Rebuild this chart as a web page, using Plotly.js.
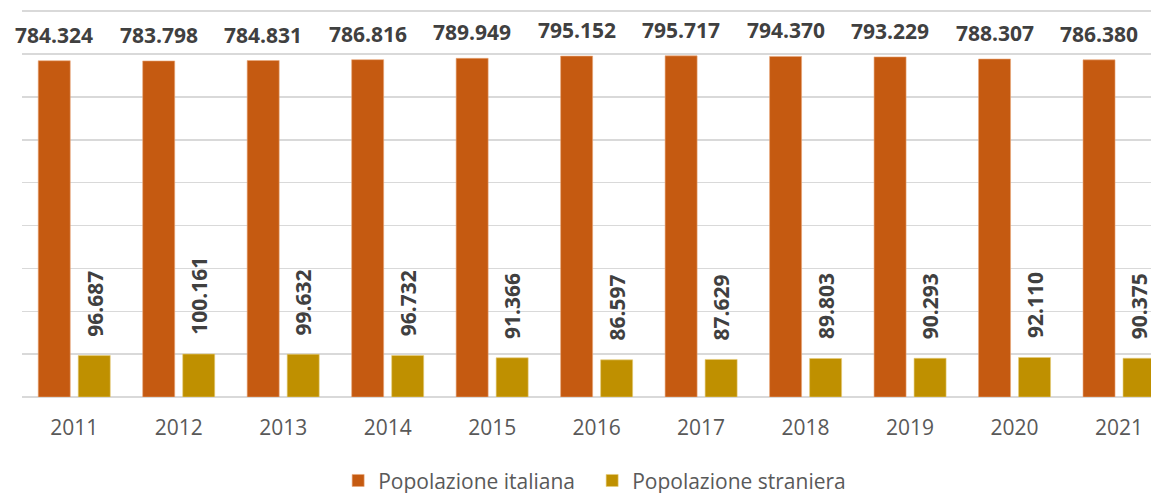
<!DOCTYPE html>
<html>
<head>
<meta charset="utf-8">
<script src="https://cdn.plot.ly/plotly-3.0.1.min.js"></script>
<style>
html,body{margin:0;padding:0;background:#fff;}
#chart{width:1151px;height:493px;}
</style>
</head>
<body>
<div id="chart"></div>
<script>
const years = ['2011','2012','2013','2014','2015','2016','2017','2018','2019','2020','2021'];
const italiana = [784324, 783798, 784831, 786816, 789949, 795152, 795717, 794370, 793229, 788307, 786380];
const straniera = [96687, 100161, 99632, 96732, 91366, 86597, 87629, 89803, 90293, 92110, 90375];
const seriesNames = ['Popolazione italiana', 'Popolazione straniera'];

function fmt(v){ return String(v).replace(/\B(?=(\d{3})+(?!\d))/g, '.'); }

const font = 'Open Sans, Noto Sans, DejaVu Sans, sans-serif';
const labelColor = '#404040';

const traces = [
  {type:'bar', name:seriesNames[0], x:years, y:italiana,
   marker:{color:'#C55A11', line:{color:'#E9A77A', width:0.6}}, hoverinfo:'none'},
  {type:'bar', name:seriesNames[1], x:years, y:straniera,
   marker:{color:'#BF9000', line:{color:'#E5CC7A', width:0.6}}, hoverinfo:'none'}
];

const annotations = [];
years.forEach((yr, i) => {
  annotations.push({x:i, y:italiana[i], xref:'x', yref:'y', text:'<b>' + fmt(italiana[i]) + '</b>',
    showarrow:false, xshift:-20, yshift:11, yanchor:'bottom', xanchor:'center', borderpad:0,
    font:{family:font, size:21, color:labelColor}});
  annotations.push({x:i, y:straniera[i], xref:'x', yref:'y', text:'<b>' + fmt(straniera[i]) + '</b>',
    showarrow:false, xshift:20, yshift:18, yanchor:'bottom', xanchor:'center', textangle:-90, borderpad:0,
    font:{family:font, size:21, color:labelColor}});
});

const layout = {
  width:1151, height:493,
  margin:{l:22, r:0, t:9, b:96, autoexpand:false},
  paper_bgcolor:'#fff', plot_bgcolor:'#fff',
  barmode:'group', bargap:0.234, bargroupgap:0.2,
  showlegend:true,
  legend:{orientation:'h', x:0.505, xanchor:'center', y:-0.216, yanchor:'middle',
    entrywidth:209, entrywidthmode:'pixels',
    font:{family:font, size:21, color:'#595959'}, traceorder:'normal'},
  xaxis:{type:'category', range:[-0.5, 10.306], showgrid:false, zeroline:false,
    showline:false, ticks:'', ticklabelstandoff:16, automargin:false,
    tickfont:{family:font, size:21, color:'#595959'}},
  yaxis:{range:[0, 905000], dtick:100000, showgrid:true, gridcolor:'#D9D9D9', gridwidth:1.5,
    zeroline:true, zerolinecolor:'#D9D9D9', zerolinewidth:1.5, automargin:false,
    showticklabels:false, ticks:'', showline:false},
  annotations:annotations,
  font:{family:font}
};

Plotly.newPlot('chart', traces, layout, {displayModeBar:false, staticPlot:true});
</script>
</body>
</html>
